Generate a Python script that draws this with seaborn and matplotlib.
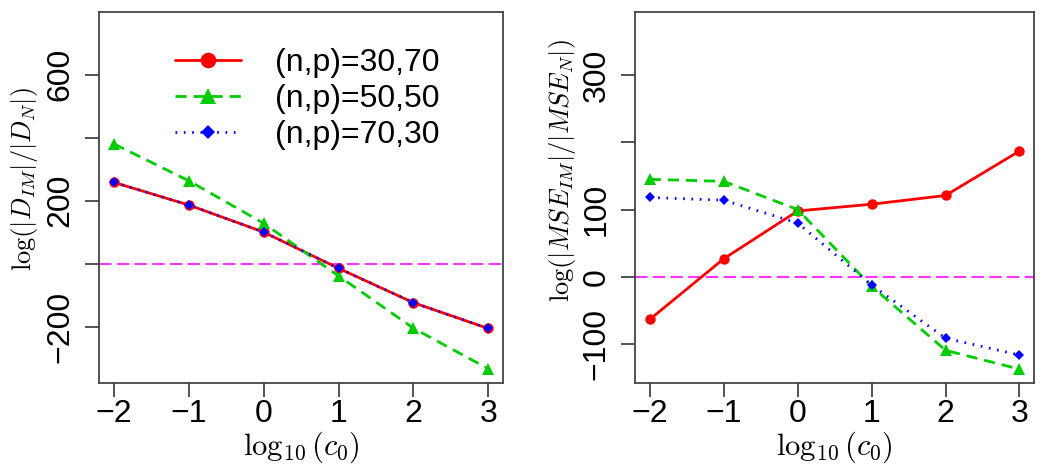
import seaborn as sns
import matplotlib.pyplot as plt

sns.set_theme(style="ticks")
plt.rcParams['font.family'] = ['Liberation Sans', 'DejaVu Sans']
plt.rcParams['mathtext.fontset'] = 'cm'
plt.rcParams['text.color'] = 'black'
plt.rcParams['axes.labelcolor'] = 'black'

# data
log_c0 = [-2, -1, 0, 1, 2, 3]
labels = ["(n,p)=30,70", "(n,p)=50,50", "(n,p)=70,30"]

det_30_70 = [258, 186, 100, -15, -124, -206]
det_50_50 = [380, 263, 128, -39, -205, -334]
det_70_30 = [258, 186, 100, -15, -124, -206]

mse_30_70 = [-63, 27, 98, 108, 121, 187]
mse_50_50 = [145, 142, 100, -14, -109, -137]
mse_70_30 = [118, 114, 80, -12, -91, -116]

styles = [
    dict(color="red", marker="o", linestyle="-", markersize=7.5),
    dict(color="#00CC00", marker="^", linestyle=(0, (4, 2.5)), markersize=8),
    dict(color="blue", marker="D", linestyle=(0, (0.6, 2.4)), markersize=5),
]

fig = plt.figure(figsize=(10.5, 4.68), dpi=100)
ax1 = fig.add_axes([0.0943, 0.181, 0.385, 0.794])
ax2 = fig.add_axes([0.6048, 0.181, 0.3802, 0.794])

panels = [
    (ax1, [det_30_70, det_50_50, det_70_30]),
    (ax2, [mse_30_70, mse_50_50, mse_70_30]),
]

for ax, series in panels:
    for vals, lab, st in zip(series, labels, styles):
        sns.lineplot(x=log_c0, y=vals, ax=ax, label=lab, legend=False,
                     linewidth=2, markeredgewidth=0, **st)
    ax.axhline(0, color="#FF33FF", lw=1.5, ls=(0, (6, 2.5)), zorder=0)
    ax.set_xlim(-2.2, 3.2)
    ax.set_xticks(log_c0)
    ax.set_xticklabels(["\u22122", "\u22121", "0", "1", "2", "3"])
    for sp in ax.spines.values():
        sp.set_color("#444444")
        sp.set_linewidth(1.3)
    ax.tick_params(axis="both", length=10, width=1.3, color="#444444",
                   labelsize=23, labelcolor="black")
    ax.tick_params(axis="x", pad=1)
    ax.tick_params(axis="y", pad=7)
    ax.set_xlabel(r"$\log_{10}(c_0)$", fontsize=22, labelpad=1)

ax1.set_ylim(-380, 800)
ax1.set_yticks([-200, 0, 200, 400, 600])
ax1.set_yticklabels(["\u2212200", "", "200", "", "600"], rotation=90, va="center")
ax1.set_ylabel(r"$\log(|D_{IM}|/|D_N|)$", fontsize=19)
ax1.yaxis.set_label_coords(-0.146, 0.55)

ax2.set_ylim(-158, 394)
ax2.set_yticks([-100, 0, 100, 200, 300])
ax2.set_yticklabels(["\u2212100", "0", "100", "", "300"], rotation=90, va="center")
ax2.set_ylabel(r"$\log(|MSE_{IM}|/|MSE_N|)$", fontsize=19)
ax2.yaxis.set_label_coords(-0.143, 0.571)

ax1.legend(loc="upper left", bbox_to_anchor=(0.188, 0.902), frameon=False,
           fontsize=23, handlelength=2.07, handletextpad=1.07, labelspacing=0.19,
           borderpad=0, borderaxespad=0, markerscale=1.5)

plt.savefig("out.png", dpi=100)
plt.close()
